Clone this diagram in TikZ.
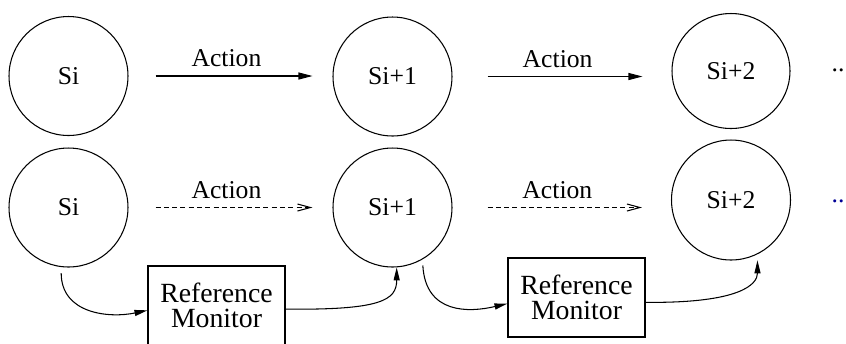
\documentclass[tikz,border=0pt]{standalone}
\usepackage{fontspec}
\setmainfont{Liberation Serif}
\usetikzlibrary{arrows.meta,shapes.geometric}
\definecolor{dotblue}{RGB}{0,0,150}
\begin{document}
\begin{tikzpicture}[x=0.02cm, y=-0.02cm, line width=0.6pt,
  font=\fontsize{14.6}{14.6}\selectfont,
  state/.style={ellipse, draw, inner sep=0pt, minimum width=2.38cm, minimum height=2.38cm},
  monitor/.style={rectangle, draw, inner sep=0pt, minimum width=2.74cm, minimum height=1.58cm, align=center,
    font=\fontsize{15.8}{14.4}\selectfont},
  act/.style={-{Triangle[length=0.28cm,width=0.14cm]}},
  tried/.style={dash pattern=on 0.1cm off 0.066cm, -{Straight Barb[length=0.26cm,width=0.14cm]}},
  check/.style={-{Triangle[length=0.26cm,width=0.12cm]}},
  lbl/.style={inner sep=0pt, above=4.8pt, pos=0.48}]
\useasboundingbox (0,0) rectangle (846,343);
% unchecked run
\node (a1)[state] at (68.5, 76) {Si};
\node (a2)[state] at (392.5, 76.5) {Si+1};
\node (a3)[state, minimum width=2.36cm, minimum height=2.3cm] at (731, 71) {Si+2};
\node (adots)[anchor=base] at (838, 71) {..};
\draw[act, shorten <=0.54cm, shorten >=0.4cm] (a1.east) -- (a1.east -| a2.west) node[lbl] {Action};
\draw[act, shorten <=0.7cm, shorten >=0.58cm] (a2.east) -- (a2.east -| a3.west) node[lbl] {Action};
% run through the reference monitor
\node (b1)[state] at (68.5, 207.5) {Si};
\node (b2)[state] at (392.5, 207.5) {Si+1};
\node (b3)[state, minimum height=2.4cm] at (731, 200) {Si+2};
\node (bdots)[anchor=base, text=dotblue] at (838, 202) {..};
\draw[tried, shorten <=0.54cm, shorten >=0.4cm] (b1.east) -- (b1.east -| b2.west) node[lbl] {Action};
\draw[tried, shorten <=0.7cm, shorten >=0.58cm] (b2.east) -- (b2.east -| b3.west) node[lbl] {Action};
\node (m1)[monitor] at (216.5, 305.5) {Reference\\Monitor};
\node (m2)[monitor] at (576.5, 297.5) {Reference\\Monitor};
\draw[check, shorten <=0.12cm] (b1.-97) .. controls +(0,47) and +(-38,8) .. (m1.184);
\draw[check] (m1.-3) .. controls +(95,1) and +(0,33) .. (b2.-86);
\draw[check, shorten <=0.12cm] (b2.-60) .. controls +(3,55) and +(-38,9) .. (m2.185);
\draw[check, shorten >=0.12cm] (m2.-4) .. controls +(95,1) and +(0,30) .. (b3.-64);
\end{tikzpicture}
\end{document}
